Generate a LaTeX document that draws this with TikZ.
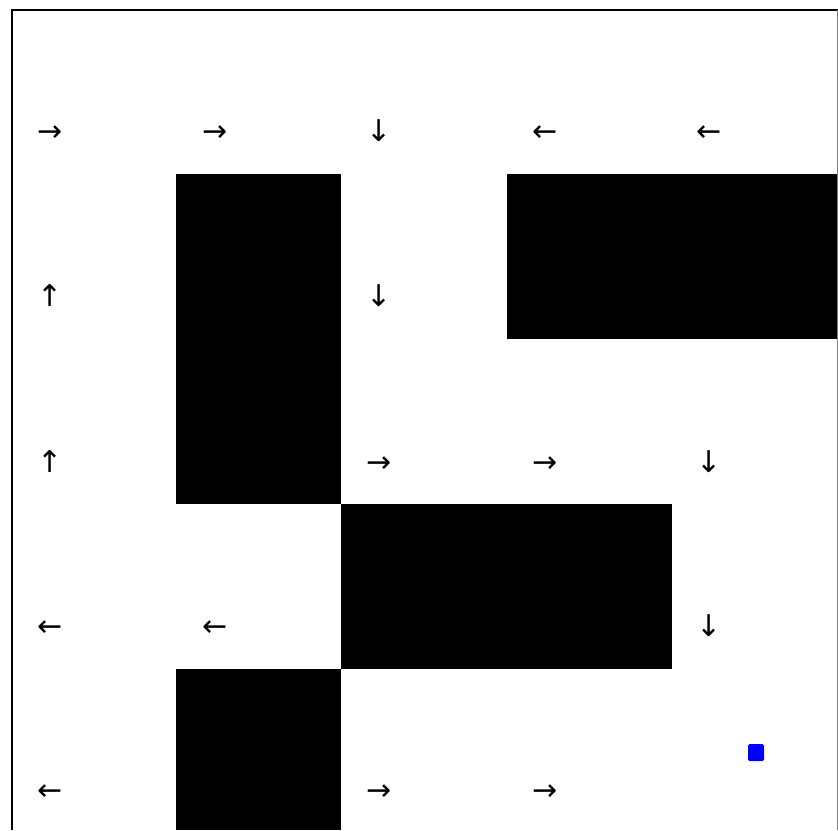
\documentclass[tikz,border=0pt]{standalone}
\usepackage{fontspec}
\newfontfamily\arrowfont{DejaVu Sans}
\begin{document}
\begin{tikzpicture}[x=1pt,y=-1pt,
  wall/.style={fill=black,draw=none},
  pol/.style={font=\arrowfont\fontsize{30}{30}\selectfont,inner sep=0pt,anchor=center},
  hpol/.style={pol,yshift=-3pt},
  agent/.style={fill=blue,draw=none,rounded corners=1.5pt}]
\useasboundingbox (0,0) rectangle (838,830);
\fill[white] (0,0) rectangle (838,830);
% walls
\fill[wall] (176,174) rectangle (341,504);
\fill[wall] (507,174) rectangle (838,339);
\fill[wall] (341,504) rectangle (672,669);
\fill[wall] (176,669) rectangle (341,830);
% frame
\draw[line width=2pt] (12,830) -- (12,10) -- (838,10);
\draw[line width=1pt,gray] (837.5,10) -- (837.5,830);
% agent
\fill[agent] (748,744) rectangle (764,761);
% policy arrows
\node[hpol] (a00) at (50,131) {→};
\node[hpol] (a01) at (215,131) {→};
\node[pol] (a02) at (379,131) {↓};
\node[hpol] (a03) at (545,131) {←};
\node[hpol] (a04) at (709,131) {←};
\node[pol] (a10) at (50,296) {↑};
\node[pol] (a12) at (379,296) {↓};
\node[pol] (a20) at (50,462) {↑};
\node[hpol] (a22) at (379,462) {→};
\node[hpol] (a23) at (545,462) {→};
\node[pol] (a24) at (709,462) {↓};
\node[hpol] (a30) at (50,626) {←};
\node[hpol] (a31) at (215,626) {←};
\node[pol] (a34) at (709,626) {↓};
\node[hpol] (a40) at (50,790) {←};
\node[hpol] (a42) at (379,790) {→};
\node[hpol] (a43) at (545,790) {→};
\end{tikzpicture}
\end{document}
